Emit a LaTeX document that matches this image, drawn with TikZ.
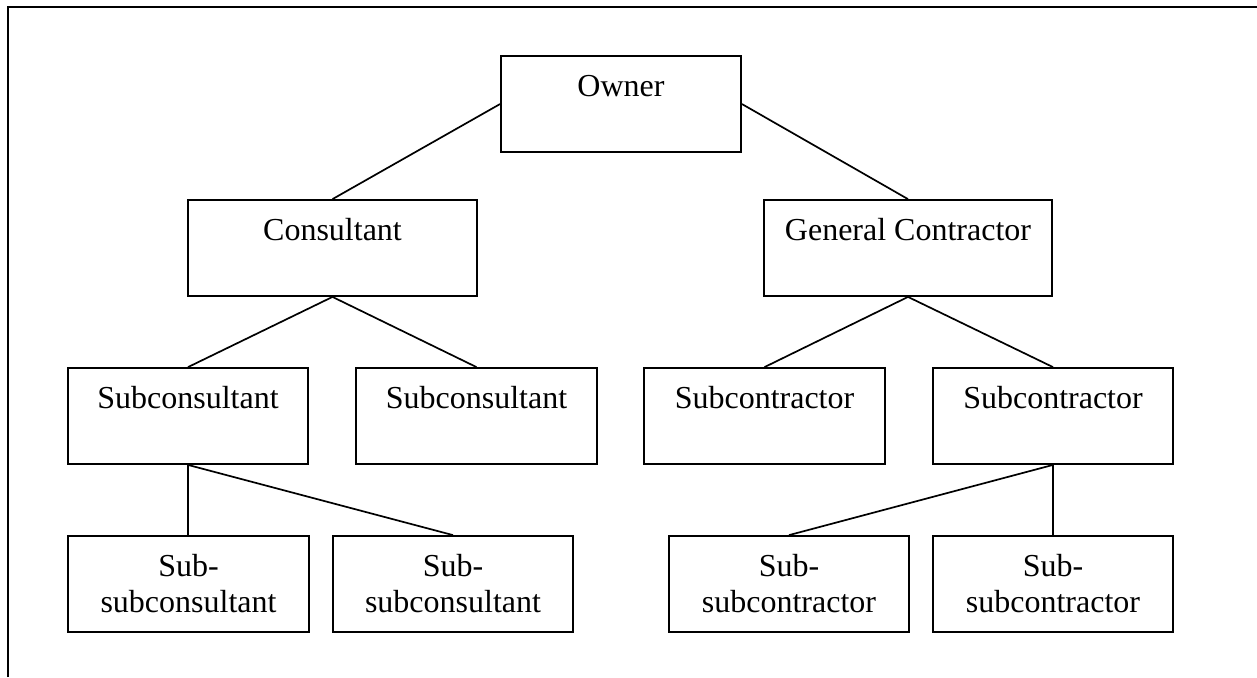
\documentclass[tikz,border=0pt]{standalone}
\usepackage{fontspec}
\setmainfont{Liberation Serif}
\newcommand{\twoline}[2]{\begin{tabular}[t]{@{}c@{}}#1\\#2\end{tabular}}
\begin{document}
\begin{tikzpicture}[x=0.5pt,y=-0.5pt,
  box/.style={draw, line width=0.9pt, inner sep=0pt, minimum height=48pt},
  txt/.style={anchor=base, inner sep=0pt, font=\fontsize{16}{18}\selectfont},
  conn/.style={line width=0.85pt},
  frame/.style={line width=1.3pt}]
\useasboundingbox (0,0) rectangle (1257,677);
% outer frame (partially visible)
\coordinate (fb) at (8,677);
\coordinate (fc) at (8,7);
\coordinate (fr) at (1257,7);
\draw[frame] (fb) -- (fc) -- (fr);
% boxes
\newcommand{\bx}[5]{%
  \node[box, minimum width=#4*0.5pt] (#1) at (#2,#3) {};
  \node[txt] (#1t) at ([yshift=-20.5pt]#1.north) {#5};}
\bx{owner}{621}{104}{240}{Owner}
\bx{cons}{332.5}{248}{289}{Consultant}
\bx{gc}{908}{248}{288}{General Contractor}
\bx{sa}{188}{416}{240}{Subconsultant}
\bx{sb}{476.5}{416}{241}{Subconsultant}
\bx{ca}{764.5}{416}{241}{Subcontractor}
\bx{cb}{1053}{416}{240}{Subcontractor}
\bx{ssa}{188.5}{584}{241}{\twoline{Sub-}{subconsultant}}
\bx{ssb}{453}{584}{240}{\twoline{Sub-}{subconsultant}}
\bx{sca}{789}{584}{240}{\twoline{Sub-}{subcontractor}}
\bx{scb}{1053}{584}{240}{\twoline{Sub-}{subcontractor}}
% connectors
\draw[conn] (owner.west) -- (cons.north);
\draw[conn] (owner.east) -- (gc.north);
\draw[conn] (cons.south) -- (sa.north);
\draw[conn] (cons.south) -- (sb.north);
\draw[conn] (gc.south) -- (ca.north);
\draw[conn] (gc.south) -- (cb.north);
\draw[conn] (sa.south) -- (sa.south |- ssa.north);
\draw[conn] (sa.south) -- (ssb.north);
\draw[conn] (cb.south) -- (sca.north);
\draw[conn] (cb.south) -- (scb.north);
\end{tikzpicture}
\end{document}
